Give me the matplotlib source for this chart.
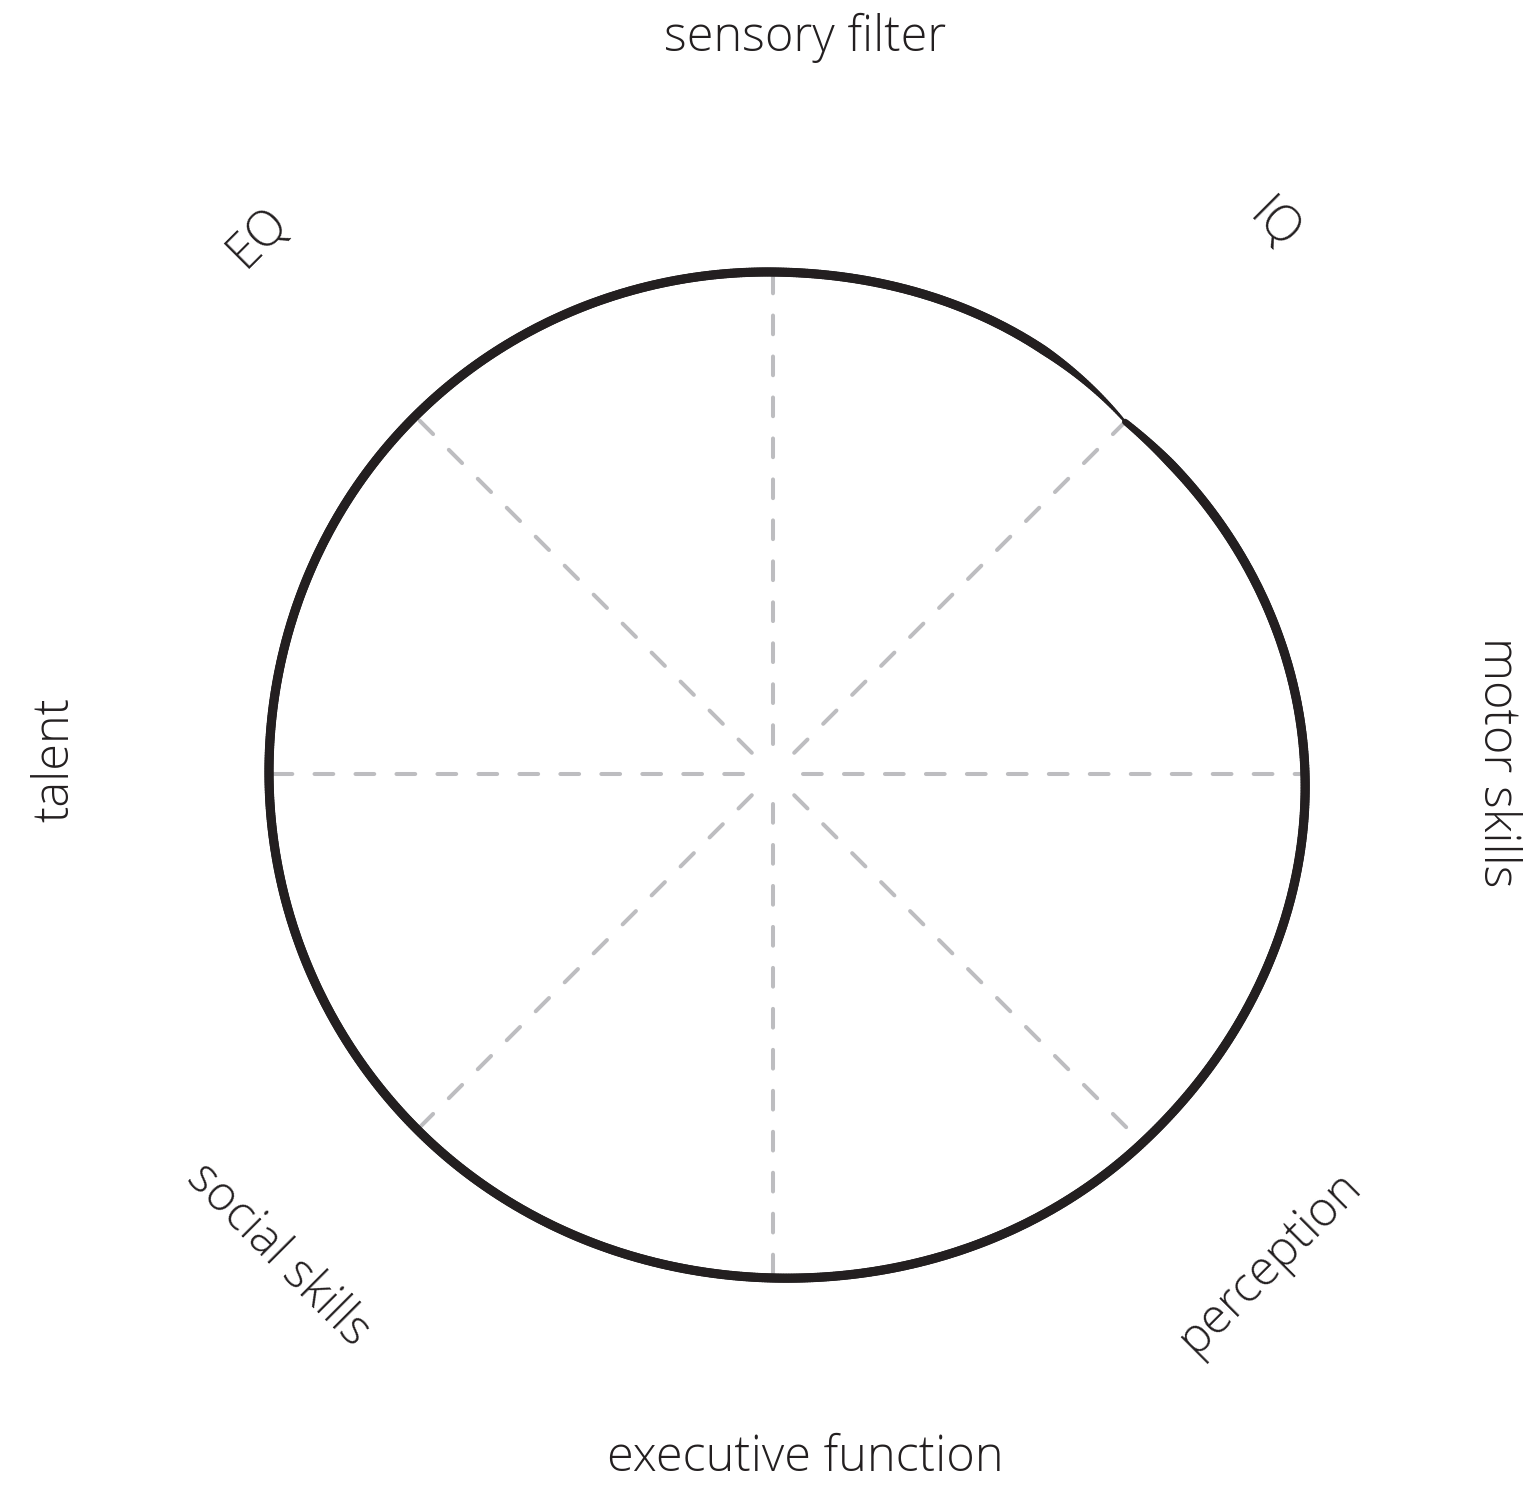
import numpy as np
import matplotlib
matplotlib.use("Agg")
import matplotlib.pyplot as plt
from matplotlib.collections import LineCollection

# categories clockwise from the top, and their values (100 = 5 px per unit)
categories = ["sensory filter", "IQ", "motor skills", "perception",
              "executive function", "social skills", "talent", "EQ"]
values = [100.4, 99.6, 106.4, 104.4, 100.8, 100.6, 100.8, 101.2]

# label placement (pixel coords) and rotation
label_xy = [(805, 38), (1273, 226), (1497, 762), (1270, 1262),
            (805, 1458), (278, 1255), (55, 760), (258, 238)]
label_rot = [0, -45, -90, 45, 0, -45, 90, 45]

W, H = 1533, 1490
cx, cy = 773, 774
scale = 5.0
plt.rcParams['lines.scale_dashes'] = False


def polar_outline(r, start=1, m_in=-30.0, m_out=40.0, n=150):
    # Hermite spline of r(theta), starting and ending at node `start`;
    # the two ends get their own slopes so the stroke meets itself with a small kink
    k = len(r)
    m = np.array([(r[(i + 1) % k] - r[i - 1]) / 2 for i in range(k)])
    th, rr = [], []
    t = np.linspace(0, 1, n, endpoint=False)
    h00 = 2 * t ** 3 - 3 * t ** 2 + 1
    h10 = t ** 3 - 2 * t ** 2 + t
    h01 = -2 * t ** 3 + 3 * t ** 2
    h11 = t ** 3 - t ** 2
    for j in range(k):
        i0 = (start + j) % k
        i1 = (i0 + 1) % k
        m0 = m_out if j == 0 else m[i0]
        m1 = m_in if j == k - 1 else m[i1]
        rr.append(h00 * r[i0] + h10 * m0 + h01 * r[i1] + h11 * m1)
        th.append((start + j + t) * 2 * np.pi / k)
    th.append([(start + k) * 2 * np.pi / k])
    rr.append([r[start]])
    return np.concatenate(th), np.concatenate(rr)


fig = plt.figure(figsize=(W / 100, H / 100), dpi=100)
ax = fig.add_axes([0, 0, 1, 1])
ax.set_xlim(0, W)
ax.set_ylim(H, 0)
ax.axis("off")

ang = np.deg2rad(np.arange(len(categories)) * 45.0)
r = np.array(values) * scale

# dashed spokes from a small gap at the centre out to each value
for a, rr in zip(ang, r):
    x0, y0 = cx + 30 * np.sin(a), cy - 30 * np.cos(a)
    ax.plot([x0, cx + rr * np.sin(a)], [y0, cy - rr * np.cos(a)],
            color="#bdbdc0", lw=2.9, linestyle=(0, (13.5, 16)),
            dash_capstyle="round", zorder=1)

# outline: starts at IQ, runs clockwise, ends back at IQ with a tapered tail
th, rad = polar_outline(r)
curve = np.column_stack([cx + rad * np.sin(th), cy - rad * np.cos(th)])
segs = np.stack([curve[:-1], curve[1:]], axis=1)
seglen = np.hypot(*(curve[1:] - curve[:-1]).T)
s = np.concatenate([[0], np.cumsum(seglen)])[:-1]
total = seglen.sum()
lw = np.full(len(segs), 6.6)
start = s < 60
lw[start] = 4.5 + 2.1 * s[start] / 60
end = s > total - 110
lw[end] = 1.6 + 5.0 * (total - s[end]) / 110
lc = LineCollection(segs, colors="#231f20", linewidths=lw, capstyle="round",
                    joinstyle="round", zorder=3)
ax.add_collection(lc)

for name, (x, y), rot in zip(categories, label_xy, label_rot):
    ax.text(x, y, name, ha="center", va="center", rotation=rot,
            rotation_mode="anchor", fontsize=35, family="Open Sans",
            fontweight="light", color="#231f20")

fig.savefig("out.png", dpi=100, facecolor="white")
